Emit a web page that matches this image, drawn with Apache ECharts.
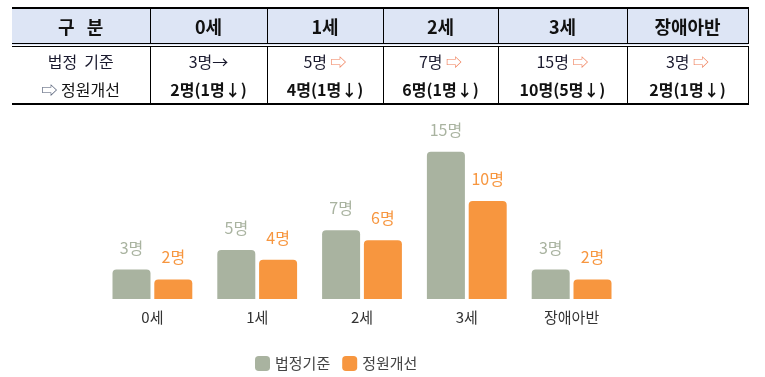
<!DOCTYPE html>
<html>
<head>
<meta charset="utf-8">
<script src="https://cdn.jsdelivr.net/npm/echarts@6/dist/echarts.min.js"></script>
<style>
  html, body { margin: 0; padding: 0; background: #fff; }
  #wrap { position: relative; width: 765px; height: 377px; overflow: hidden; }
  #chart { position: absolute; left: 0; top: 0; width: 765px; height: 377px; }
  table.info {
    position: absolute; left: 12px; top: 7px;
    border-collapse: collapse; table-layout: fixed;
    font-family: "Noto Sans CJK KR", sans-serif; color: #111;
  }
  table.info td, table.info th { padding: 0; text-align: center; white-space: nowrap; line-height: 1; }
  table.info th {
    background: #dde5f5; height: 34px; font-size: 18px; font-weight: bold;
    border-top: 2px solid #000; border-bottom: 4px double #000;
    border-left: 1px solid #000;
  }
  table.info th:first-child { border-left: none; }
  table.info th:last-child, table.info td:last-child { border-right: 1px solid #000; }
  table.info td { border-left: 1px solid #000; }
  table.info td:first-child { border-left: none; }
  tr.r1 td { height: 28px; font-size: 16px; color: #1a1a2e; }
  tr.r2 td { height: 28px; font-size: 16px; font-weight: bold; border-bottom: 2px solid #000; }
  tr.r2 td:first-child { font-weight: normal; font-size: 16px; }
  .oa { color: #ef7d57; }
  .ba { color: #44506a; }
</style>
</head>
<body>
<div id="wrap">
  <div id="chart"></div>
  <table class="info">
    <colgroup>
      <col style="width:138px"><col style="width:117px"><col style="width:116px">
      <col style="width:115px"><col style="width:129px"><col style="width:121px">
    </colgroup>
    <tr><th>구&nbsp;&nbsp;&nbsp;분</th><th>0세</th><th>1세</th><th>2세</th><th>3세</th><th>장애아반</th></tr>
    <tr class="r1"><td>법정&nbsp;&nbsp;기준</td><td>3명→</td><td>5명 <span class="oa">⇨</span></td><td>7명 <span class="oa">⇨</span></td><td>15명 <span class="oa">⇨</span></td><td>3명 <span class="oa">⇨</span></td></tr>
    <tr class="r2"><td><span class="ba">⇨</span> 정원개선</td><td>2명(1명↓)</td><td>4명(1명↓)</td><td>6명(1명↓)</td><td>10명(5명↓)</td><td>2명(1명↓)</td></tr>
  </table>
</div>
<script>
var categories = ['0세', '1세', '2세', '3세', '장애아반'];
var legalStandard = [3, 5, 7, 15, 3];
var improved = [2, 4, 6, 10, 2];
var seriesNames = ['법정기준', '정원개선'];

var chart = echarts.init(document.getElementById('chart'));
var font = '"Noto Sans CJK KR", sans-serif';

chart.setOption({
  animation: false,
  textStyle: { fontFamily: font },
  grid: { left: 100, right: 141, top: 142, bottom: 78 },
  legend: {
    data: seriesNames,
    left: 250, top: 351,
    icon: 'roundRect', itemWidth: 15, itemHeight: 15, itemGap: 12,
    textStyle: { fontSize: 15, color: '#444', fontFamily: font }
  },
  xAxis: {
    type: 'category',
    data: categories,
    axisLine: { show: false },
    axisTick: { show: false },
    axisLabel: { fontSize: 15, color: '#333', margin: 11, fontFamily: font }
  },
  yAxis: {
    type: 'value', min: 0, max: 16,
    show: false,
    splitLine: { show: false }
  },
  series: [
    {
      name: seriesNames[0], type: 'bar', data: legalStandard,
      barWidth: 38, barGap: '10%',
      itemStyle: { color: '#a9b3a0', borderRadius: [4, 4, 0, 0] },
      label: { show: true, position: 'top', distance: 14, formatter: '{c}명',
               fontSize: 16, color: '#a9b3a0', fontFamily: font }
    },
    {
      name: seriesNames[1], type: 'bar', data: improved,
      barWidth: 38,
      itemStyle: { color: '#f7963f', borderRadius: [4, 4, 0, 0] },
      label: { show: true, position: 'top', distance: 14, formatter: '{c}명',
               fontSize: 16, color: '#f7963f', fontFamily: font }
    }
  ]
});
</script>
</body>
</html>
